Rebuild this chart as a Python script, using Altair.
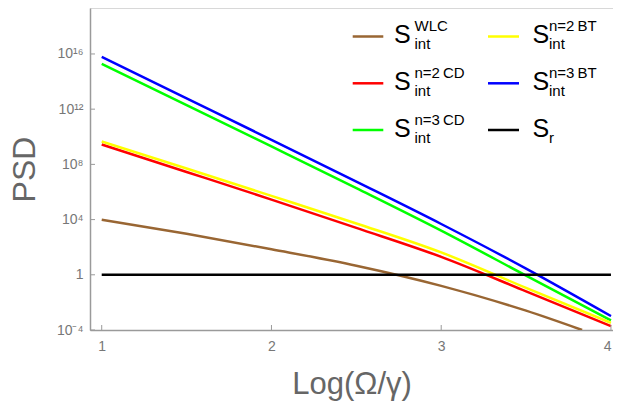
import altair as alt
import pandas as pd

# ---- data (log10 of PSD) ----
x_pts = [1.0, 1.5, 2.0, 2.5, 3.0, 3.5, 4.0]
x_wlc = [1.0, 1.5, 2.0, 2.5, 3.0, 3.5, 3.83]
log_wlc = [3.99, 2.97, 1.85, 0.66, -0.80, -2.60, -4.0]
log_n2cd = [9.44, 7.45, 5.45, 3.40, 1.30, -1.20, -3.72]
log_n3cd = [15.29, 12.30, 9.30, 6.28, 3.20, -0.06, -3.31]
log_n2bt = [9.66, 7.70, 5.72, 3.72, 1.62, -0.95, -3.48]
log_n3bt = [15.78, 12.78, 9.78, 6.75, 3.68, 0.45, -2.99]
x_sr = [1.0, 4.0]
log_sr = [0.0, 0.0]

series_names = ["WLC", "n=2 CD", "n=3 CD", "n=2 BT", "n=3 BT", "r"]
series_colors = ["#996633", "#FF0000", "#00FF00", "#FFFF00", "#0000FF", "#000000"]
series_x = [x_wlc, x_pts, x_pts, x_pts, x_pts, x_sr]
series_log = [log_wlc, log_n2cd, log_n3cd, log_n2bt, log_n3bt, log_sr]

x_ticks = [1, 2, 3, 4]
y_tick_exps = [-4, 0, 4, 8, 12, 16]
y_tick_labels = ["10⁻⁴", "1", "10⁴", "10⁸", "10¹²", "10¹⁶"]

# legend entries: (sup, sub)
legend_sups = ["WLC", "n=2\u2009CD", "n=3\u2009CD", "n=2\u2009BT", "n=3\u2009BT", ""]
legend_subs = ["int", "int", "int", "int", "int", "r"]

# ---- layout ----
W, H = 523, 322
x_dom = [0.931, 4.012]
y_dom = [1e-4, 10 ** 19.33]
FONT = "Liberation Sans"
LW = 2.5

xs = alt.Scale(domain=x_dom, nice=False, zero=False)
ys = alt.Scale(type="log", domain=y_dom, nice=False)

expr_e = "round(log(datum.value)/LN10)"
label_expr = ""
for e, lab in zip(y_tick_exps, y_tick_labels):
    label_expr += f"{expr_e} == {e} ? '{lab}' : "
label_expr += "''"

x_axis = alt.Axis(values=x_ticks, format="d", title="Log(Ω/γ)",
                  labelPadding=9, labelFlush=5, titleFontSize=31, titleY=63,
                  titleBaseline="alphabetic", titleColor="#666666",
                  titleFontWeight="normal")
y_axis = alt.Axis(values=[10.0 ** e for e in y_tick_exps], labelExpr=label_expr,
                  title="PSD", labelPadding=7, titleFontSize=32,
                  titleX=-66, titleY=H / 2, titleAngle=-90,
                  titleBaseline="middle", titleAlign="center",
                  titleColor="#666666", titleFontWeight="normal")

layers = []
for nm, col, xx, ll in zip(series_names, series_colors, series_x, series_log):
    df = pd.DataFrame({"x": xx, "psd": [10 ** v for v in ll]})
    layers.append(
        alt.Chart(df).mark_line(color=col, strokeWidth=LW, interpolate="monotone", clip=True)
        .encode(x=alt.X("x:Q", scale=xs, axis=x_axis),
                y=alt.Y("psd:Q", scale=ys, axis=y_axis))
    )

# inward tick marks
xt = pd.DataFrame({"x": x_ticks})
layers.append(
    alt.Chart(xt).mark_rule(color="#9a9a9a", strokeWidth=1)
    .encode(x=alt.X("x:Q", scale=xs, axis=x_axis), y=alt.value(H), y2=alt.value(H - 5))
)
yt = pd.DataFrame({"psd": [10.0 ** e for e in y_tick_exps]})
layers.append(
    alt.Chart(yt).mark_rule(color="#9a9a9a", strokeWidth=1)
    .encode(y=alt.Y("psd:Q", scale=ys, axis=y_axis), x=alt.value(0), x2=alt.value(5))
)

# custom legend (two columns, three rows)
one = pd.DataFrame({"a": [0]})
col_sw = [(262.7, 293.3), (398.0, 429.0)]
col_s = [304.0, 442.5]
col_ss = [324.5, 459.0]
row_y = [28.5, 75.3, 122.0]
for k in range(6):
    c, r = k // 3, k % 3
    yy = row_y[r]
    layers.append(
        alt.Chart(one).mark_rule(color=series_colors[k], strokeWidth=LW)
        .encode(x=alt.value(col_sw[c][0]), x2=alt.value(col_sw[c][1]), y=alt.value(yy))
    )
    layers.append(
        alt.Chart(one).mark_text(text="S", font=FONT, fontSize=25, align="left",
                                 baseline="alphabetic", color="black")
        .encode(x=alt.value(col_s[c]), y=alt.value(yy + 6.5))
    )
    layers.append(
        alt.Chart(one).mark_text(text=legend_subs[k], font=FONT, fontSize=15, align="left",
                                 baseline="alphabetic", color="black")
        .encode(x=alt.value(col_ss[c]), y=alt.value(yy + 12.5))
    )
    if legend_sups[k]:
        layers.append(
            alt.Chart(one).mark_text(text=legend_sups[k], font=FONT, fontSize=15, align="left",
                                     baseline="alphabetic", color="black")
            .encode(x=alt.value(col_ss[c]), y=alt.value(yy - 5.5))
        )

chart = (
    alt.layer(*layers)
    .properties(width=W, height=H, autosize=alt.AutoSizeParams(type="none"),
                padding={"left": 82, "top": 0, "right": 0, "bottom": 74})
    .configure_view(stroke="#d8d8d8", strokeWidth=1)
    .configure_axis(domainColor="#9a9a9a", domainWidth=1.5, ticks=False, grid=False,
                    labelColor="#777777", labelFontSize=14, labelFont=FONT, titleFont=FONT)
)

chart.save("out.html", embed_options={"renderer": "svg", "actions": False})
